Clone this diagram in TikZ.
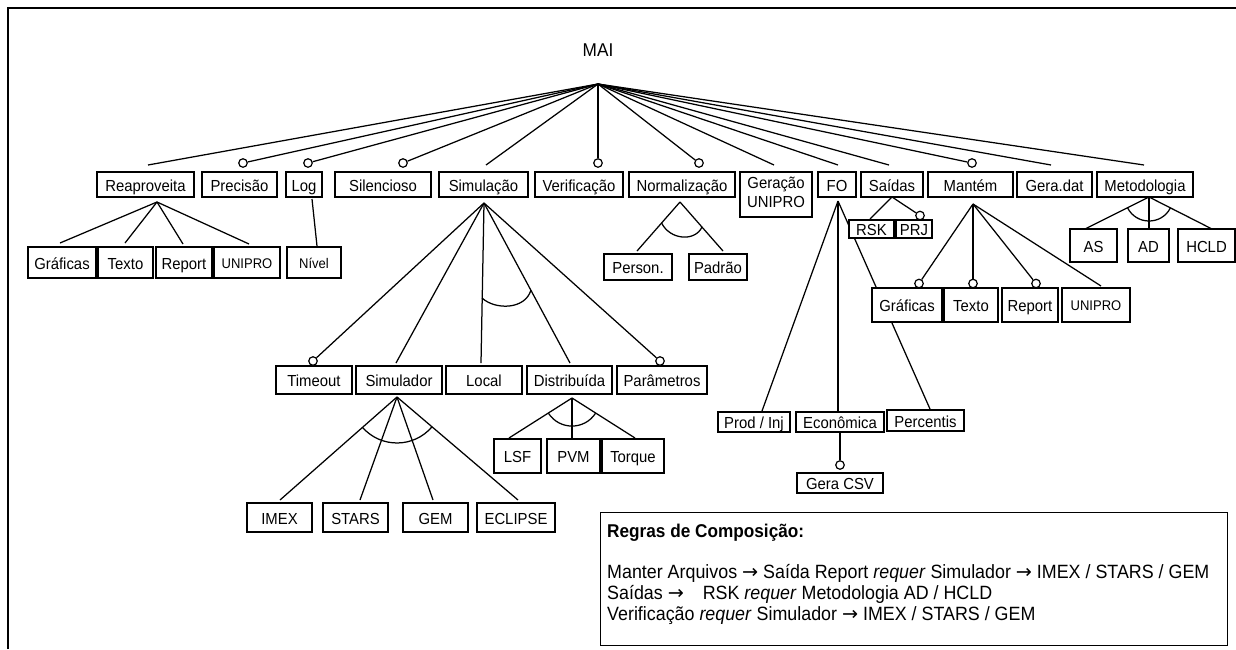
\documentclass[tikz,border=0pt]{standalone}
\usepackage{fontspec}
\setmainfont[FakeStretch=0.93]{Liberation Sans}
\newfontfamily\arrowfont{DejaVu Sans}
\usetikzlibrary{backgrounds}
\newcommand\arr{{\arrowfont\char"2192}}
% feature box given by its left, right, top and bottom edges
\newcommand\featbox[7][]{\node[box,minimum width={#4-#3},minimum height={#6-#5},#1] (#2) at ({(#3+#4)/2},{(#5+#6)/2}) {#7};}

\begin{document}
\begin{tikzpicture}[x=1pt,y=-1pt,
  box/.style={draw,line width=1.4pt,fill=white,inner sep=0pt,
    font=\fontsize{16}{19}\selectfont,text height=13pt,text depth=0pt},
  smalltext/.style={font=\fontsize{14}{16}\selectfont,text height=11.6pt},
  link/.style={line width=1.25pt},
  opt/.style={circle,draw,line width=1.2pt,fill=white,inner sep=0pt,minimum size=8.5pt},
  frame/.style={line width=2pt},
  rule/.style={anchor=base west,inner sep=0pt,font=\fontsize{19.2}{23}\selectfont}]
\useasboundingbox (0,0) rectangle (1236,649);

% outer frame
\draw[frame] (7.5,649) -- (7.5,7.5) -- (1236,7.5);

% root
\node[font=\fontsize{18.5}{21}\selectfont,inner sep=0pt] (mai) at (598,50) {MAI};
\coordinate (root) at (598,84);

% first level
\featbox{reap}{97}{194}{172}{197}{Reaproveita}
\featbox{prec}{202}{277}{172}{197}{Precisão}
\featbox{log}{286}{322}{172}{197}{Log}
\featbox{sil}{335}{431}{172}{197}{Silencioso}
\featbox{simu}{439}{528}{172}{197}{Simulação}
\featbox{veri}{535}{623}{172}{197}{Verificação}
\featbox{norm}{629}{735}{172}{197}{Normalização}
\featbox[align=center,text height=30.5pt,text depth=5.5pt]{gera}{740}{812}{172}{217}{Geração\\UNIPRO}
\featbox{fo}{818}{856}{172}{197}{FO}
\featbox{said}{861}{923}{172}{197}{Saídas}
\featbox{mant}{928}{1013}{172}{197}{Mantém}
\featbox{gdat}{1017}{1092}{172}{197}{Gera.dat}
\featbox{meto}{1097}{1193}{172}{197}{Metodologia}

% Reaproveita, Log, Normalizacao
\featbox{g1}{28}{96}{247}{278}{Gráficas}
\featbox{t1}{98}{153}{247}{278}{Texto}
\featbox{r1}{156}{212}{247}{278}{Report}
\featbox[smalltext]{u1}{214}{280}{247}{278}{UNIPRO}
\featbox[smalltext]{niv}{287}{341}{247}{278}{Nível}
\featbox{pers}{604}{672}{254}{280}{Person.}
\featbox{padr}{689}{747}{254}{280}{Padrão}

% Simulacao
\featbox{tout}{276}{352}{366}{394}{Timeout}
\featbox{simr}{356}{442}{366}{394}{Simulador}
\featbox{loc}{446}{522}{366}{394}{Local}
\featbox{dist}{527}{612}{366}{394}{Distribuída}
\featbox{par}{617}{707}{366}{394}{Parâmetros}
\featbox{imex}{247}{312}{503}{532}{IMEX}
\featbox{stars}{323}{388}{503}{532}{STARS}
\featbox{gem}{403}{468}{503}{532}{GEM}
\featbox{ecl}{477}{555}{503}{532}{ECLIPSE}
\featbox{lsf}{494}{541}{439}{473}{LSF}
\featbox{pvm}{547}{600}{439}{473}{PVM}
\featbox{torq}{602}{664}{439}{473}{Torque}

% Saidas, Mantem, Metodologia
\featbox{rsk}{849}{894}{220}{238}{RSK}
\featbox{prj}{896}{932}{220}{238}{PRJ}
\featbox{mg}{872}{942}{288}{322}{Gráficas}
\featbox{mt}{944}{998}{288}{322}{Texto}
\featbox{mr}{1002}{1058}{288}{322}{Report}
\featbox[smalltext]{mu}{1062}{1130}{288}{322}{UNIPRO}
\featbox{as}{1070}{1117}{229}{262}{AS}
\featbox{ad}{1128}{1169}{229}{262}{AD}
\featbox{hcld}{1178}{1235}{229}{262}{HCLD}

% FO
\featbox{prod}{718}{790}{412}{432}{Prod / Inj}
\featbox{econ}{796}{884}{412}{432}{Econômica}
\featbox{perc}{887}{964}{410}{431}{Percentis}
\featbox{gcsv}{797}{883}{473}{493}{Gera CSV}

% optional-feature circles
\node[opt] (prec-o) at (243,163) {};
\node[opt] (log-o) at (308,163) {};
\node[opt] (sil-o) at (403,163) {};
\node[opt] (veri-o) at (598,163) {};
\node[opt] (norm-o) at (699,163) {};
\node[opt] (mant-o) at (972,163) {};
\node[opt] (tout-o) at (313,361) {};
\node[opt] (par-o) at (660,361) {};
\node[opt] (prj-o) at (920,215.5) {};
\node[opt] (mg-o) at (919,283.5) {};
\node[opt] (mt-o) at (973,283.5) {};
\node[opt] (mr-o) at (1036,283.5) {};
\node[opt] (gcsv-o) at (840,465) {};

% branch points and plain line ends
\coordinate (reap-in) at (148,165);
\coordinate (simu-in) at (486,165);
\coordinate (gera-in) at (774,165);
\coordinate (fo-in) at (838,165);
\coordinate (said-in) at (889,165);
\coordinate (gdat-in) at (1051,165);
\coordinate (meto-in) at (1144,165);
\coordinate (reap-a) at (157,202);
\coordinate (g1-in) at (60,243);
\coordinate (t1-in) at (125,243);
\coordinate (r1-in) at (183,244);
\coordinate (u1-in) at (249,244);
\coordinate (log-a) at (312,199);
\coordinate (niv-in) at (317,246);
\coordinate (norm-a) at (680,202);
\coordinate (pers-in) at (637,251);
\coordinate (padr-in) at (723,251);
\coordinate (simu-a) at (484,203);
\coordinate (simr-in) at (396,363);
\coordinate (loc-in) at (481,363);
\coordinate (dist-in) at (570,363);
\coordinate (simr-a) at (397,397);
\coordinate (imex-in) at (280,500);
\coordinate (stars-in) at (360,500);
\coordinate (gem-in) at (433,500);
\coordinate (ecl-in) at (518,500);
\coordinate (dist-a) at (572,398);
\coordinate (lsf-in) at (509,438);
\coordinate (pvm-in) at (572,438);
\coordinate (torq-in) at (635,438);
\coordinate (fo-a) at (838,201);
\coordinate (prod-in) at (762,411);
\coordinate (econ-in) at (838,411);
\coordinate (perc-in) at (930,409);
\coordinate (said-a) at (892,197);
\coordinate (rsk-in) at (870,219);
\coordinate (mant-a) at (973,204);
\coordinate (mu-in) at (1101,286);
\coordinate (meto-a) at (1149,197);
\coordinate (as-in) at (1085,229);
\coordinate (ad-in) at (1149,229);
\coordinate (hcld-in) at (1212,229);

\begin{pgfonlayer}{background}
  \foreach \t in {reap-in,prec-o,log-o,sil-o,simu-in,veri-o,norm-o,gera-in,fo-in,said-in,mant-o,gdat-in,meto-in}
    \draw[link] (root) -- (\t);
  \foreach \t in {g1-in,t1-in,r1-in,u1-in} \draw[link] (reap-a) -- (\t);
  \draw[link] (log-a) -- (niv-in);
  \foreach \t in {pers-in,padr-in} \draw[link] (norm-a) -- (\t);
  \foreach \t in {tout-o,simr-in,loc-in,dist-in,par-o} \draw[link] (simu-a) -- (\t);
  \foreach \t in {imex-in,stars-in,gem-in,ecl-in} \draw[link] (simr-a) -- (\t);
  \foreach \t in {lsf-in,pvm-in,torq-in} \draw[link] (dist-a) -- (\t);
  \foreach \t in {prod-in,econ-in,perc-in} \draw[link] (fo-a) -- (\t);
  \draw[link] (econ) -- (gcsv-o);
  \foreach \t in {rsk-in,prj-o} \draw[link] (said-a) -- (\t);
  \foreach \t in {mg-o,mt-o,mr-o,mu-in} \draw[link] (mant-a) -- (\t);
  \foreach \t in {as-in,ad-in,hcld-in} \draw[link] (meto-a) -- (\t);
  % alternative-group arcs
  \draw[link] (661.6,223) .. controls (670,240) and (695,242) .. (702,227);
  \draw[link] (482,298) .. controls (495,310) and (525,310) .. (531,290);
  \draw[link] (362.5,427.4) .. controls (381,448.4) and (413.9,448.1) .. (432,426.8);
  \draw[link] (548.5,413.3) .. controls (559.6,430.3) and (584.4,430.3) .. (595.5,413.3);
  \draw[link] (1127.5,207.7) .. controls (1136.3,225.3) and (1161.5,225.5) .. (1170.4,207.9);
\end{pgfonlayer}

% composition rules
\node[draw,line width=1.4pt,inner sep=0pt,minimum width=627pt,minimum height=133pt,anchor=north west] (rules) at (600,512) {};
\node[rule,font=\bfseries\fontsize{18.5}{22}\selectfont] (rtitle) at (607,537) {Regras de Composição:};
\node[rule] (rline1) at (607,578) {Manter Arquivos \arr{} Saída Report \textit{requer} Simulador \arr{} IMEX / STARS / GEM};
\node[rule] (rline2) at (607,599) {Saídas \arr\hspace{14pt} RSK \textit{requer} Metodologia AD / HCLD};
\node[rule] (rline3) at (607,620) {Verificação \textit{requer} Simulador \arr{} IMEX / STARS / GEM};
\end{tikzpicture}
\end{document}
